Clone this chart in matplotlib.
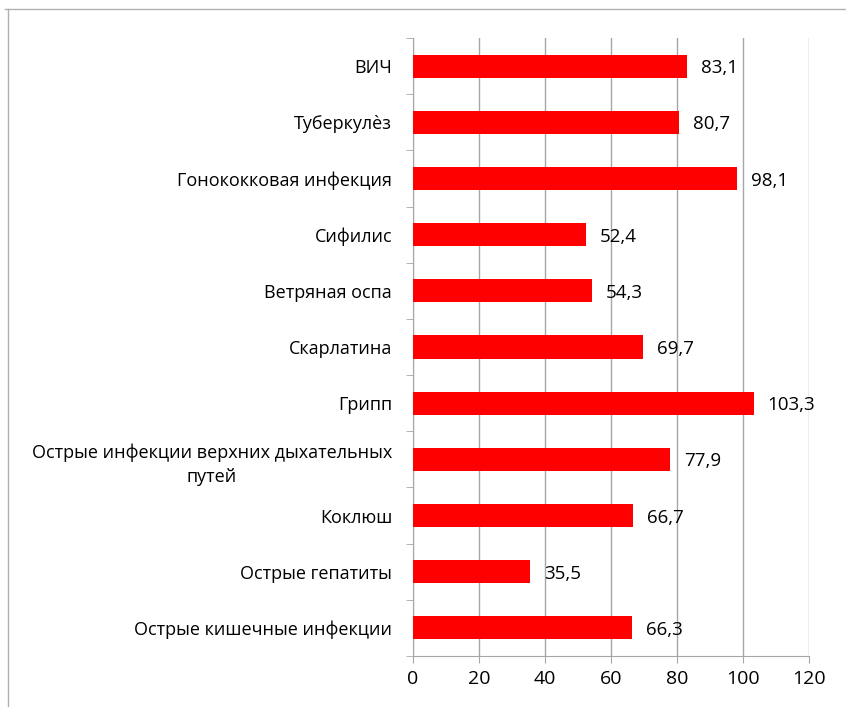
import numpy as np
import matplotlib.pyplot as plt
from matplotlib.lines import Line2D
from matplotlib.ticker import FixedLocator

plt.rcParams['font.family'] = ['Open Sans', 'DejaVu Sans']

# categories from bottom to top
diseases = [
    "Острые кишечные инфекции",
    "Острые гепатиты",
    "Коклюш",
    "Острые инфекции верхних дыхательных\nпутей",
    "Грипп",
    "Скарлатина",
    "Ветряная оспа",
    "Сифилис",
    "Гонококковая инфекция",
    "Туберкулѐз",
    "ВИЧ",
]
values = [66.3, 35.5, 66.7, 77.9, 103.3, 69.7, 54.3, 52.4, 98.1, 80.7, 83.1]
xticks = [0, 20, 40, 60, 80, 100, 120]

grid_col = "#a6a6a6"

fig = plt.figure(figsize=(8.46, 7.07), dpi=100)
ax = fig.add_axes([413 / 846, 1 - 656 / 707, 396 / 846, 618 / 707])

y = np.arange(len(diseases))
ax.barh(y, values, height=0.41, color="#ff0000", zorder=3)

for yi, v in zip(y, values):
    ax.annotate(f"{v:.1f}".replace(".", ","), (v, yi), xytext=(10, -1.5),
                textcoords="offset points", va="center", ha="left",
                fontsize=13.5, color="black", zorder=4)

ax.set_xlim(0, 120)
ax.set_ylim(-0.5, len(diseases) - 0.5)
ax.set_xticks(xticks)
ax.set_xticklabels([str(t) for t in xticks], fontsize=14)
ax.set_yticks(y)
ax.set_yticklabels(diseases, fontsize=13, multialignment="center", linespacing=1.45)
ax.yaxis.set_minor_locator(FixedLocator(np.arange(-0.5, len(diseases), 1.0)))

ax.tick_params(axis="y", which="major", length=0, pad=15)
ax.tick_params(axis="y", which="minor", length=5, color=grid_col, direction="out")
ax.tick_params(axis="x", length=5, color=grid_col, pad=5)

ax.grid(axis="x", color=grid_col, linewidth=1, zorder=0)
ax.set_axisbelow(True)
for side in ["top", "right"]:
    ax.spines[side].set_visible(False)
for side in ["left", "bottom"]:
    ax.spines[side].set_color(grid_col)

# outer chart frame (partly cropped)
fig.add_artist(Line2D([5 / 846, 1], [1 - 9 / 707, 1 - 9 / 707], color="#b0b0b0", lw=1))
fig.add_artist(Line2D([8 / 846, 8 / 846], [0, 1 - 9 / 707], color="#b0b0b0", lw=1))

fig.savefig("out.png", dpi=100)
